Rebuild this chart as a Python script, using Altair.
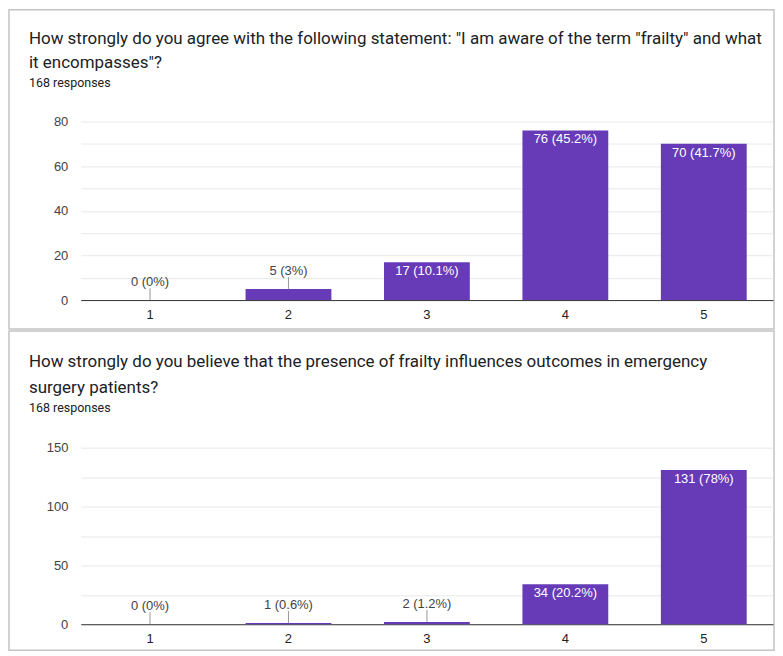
import altair as alt
import pandas as pd

categories = ["1", "2", "3", "4", "5"]

q1_title = ['How strongly do you agree with the following statement: "I am aware of the term "frailty" and what',
            'it encompasses"?']
q1_counts = [0, 5, 17, 76, 70]
q1_pcts = ["0", "3", "10.1", "45.2", "41.7"]
q1_ticks = [0, 10, 20, 30, 40, 50, 60, 70, 80]
q1_labelled = [0, 20, 40, 60, 80]

q2_title = ['How strongly do you believe that the presence of frailty influences outcomes in emergency',
            'surgery patients?']
q2_counts = [0, 1, 2, 34, 131]
q2_pcts = ["0", "0.6", "1.2", "20.2", "78"]
q2_ticks = [0, 25, 50, 75, 100, 125, 150]
q2_labelled = [0, 50, 100, 150]

responses = "168 responses"

BAR = "#673ab7"
PANEL_W = 767
PANEL_H = 320
LABEL_FONT = "Liberation Sans"
TITLE_FONT = "Roboto"


def panel(counts, pcts, title_lines, ticks, labelled, yrange, title_ys):
    ymax = ticks[-1]
    df = pd.DataFrame({
        "cat": categories,
        "count": counts,
        "label": [f"{c} ({p}%)" for c, p in zip(counts, pcts)],
        "inside": [c / ymax > 0.15 for c in counts],
    })
    lab_test = " || ".join(f"datum.value == {v}" for v in labelled)
    x = alt.X("cat:N", sort=categories,
              scale=alt.Scale(range=[72, 766], paddingInner=0.38, paddingOuter=0.19),
              axis=alt.Axis(title=None, labelAngle=0, orient="bottom",
                            offset=-(PANEL_H - yrange[0]), ticks=False, labelPadding=8,
                            domainColor="#333333", domainWidth=1, grid=False,
                            labelFont=LABEL_FONT, labelFontSize=13, labelColor="#222222"))
    y = alt.Y("count:Q",
              scale=alt.Scale(domain=[0, ymax], range=yrange, nice=False, zero=True),
              axis=alt.Axis(title=None, values=ticks, labelExpr=f"({lab_test}) ? datum.label : ''",
                            offset=-72, domain=False, ticks=False, tickSize=0, labelPadding=13,
                            gridColor="#e8e8e8", gridWidth=1,
                            labelFont=LABEL_FONT, labelFontSize=13, labelColor="#444444"))
    base = alt.Chart(df)
    bars = base.mark_bar(color=BAR).encode(x=x, y=y)
    leader = base.transform_filter("!datum.inside").mark_rule(
        color="#999999", strokeWidth=1, y2Offset=-12).encode(x=x, y=y, y2=alt.Y2("count:Q"))
    out_txt = base.transform_filter("!datum.inside").mark_text(
        baseline="alphabetic", dy=-14, color="#444444", font=LABEL_FONT, fontSize=13
    ).encode(x=x, y=y, text="label:N")
    in_txt = base.transform_filter("datum.inside").mark_text(
        baseline="top", dy=3, color="white", font=LABEL_FONT, fontSize=13
    ).encode(x=x, y=y, text="label:N")

    texts = []
    for line, ty in zip(title_lines, title_ys[:2]):
        texts.append(alt.Chart(alt.Data(values=[{}])).mark_text(
            align="left", baseline="alphabetic", font=TITLE_FONT, fontSize=17, color="#202124"
        ).encode(x=alt.value(20), y=alt.value(ty), text=alt.value(line)))
    texts.append(alt.Chart(alt.Data(values=[{}])).mark_text(
        align="left", baseline="alphabetic", font=TITLE_FONT, fontSize=12.5,
        color="#202124"
    ).encode(x=alt.value(20), y=alt.value(title_ys[2]), text=alt.value(responses)))

    return alt.layer(bars, leader, out_txt, in_txt, *texts).properties(width=PANEL_W, height=PANEL_H)


p1 = panel(q1_counts, q1_pcts, q1_title, q1_ticks, q1_labelled, [291, 112], [34, 58, 77])
p2 = panel(q2_counts, q2_pcts, q2_title, q2_ticks, q2_labelled, [294, 117], [36, 62, 81])

chart = alt.vconcat(p1, p2, spacing=0).configure_view(
    stroke="#c4c4c4", strokeWidth=1.5
).properties(background="white", padding=0)

chart.save("out.html", embed_options={"renderer": "svg", "actions": False})
